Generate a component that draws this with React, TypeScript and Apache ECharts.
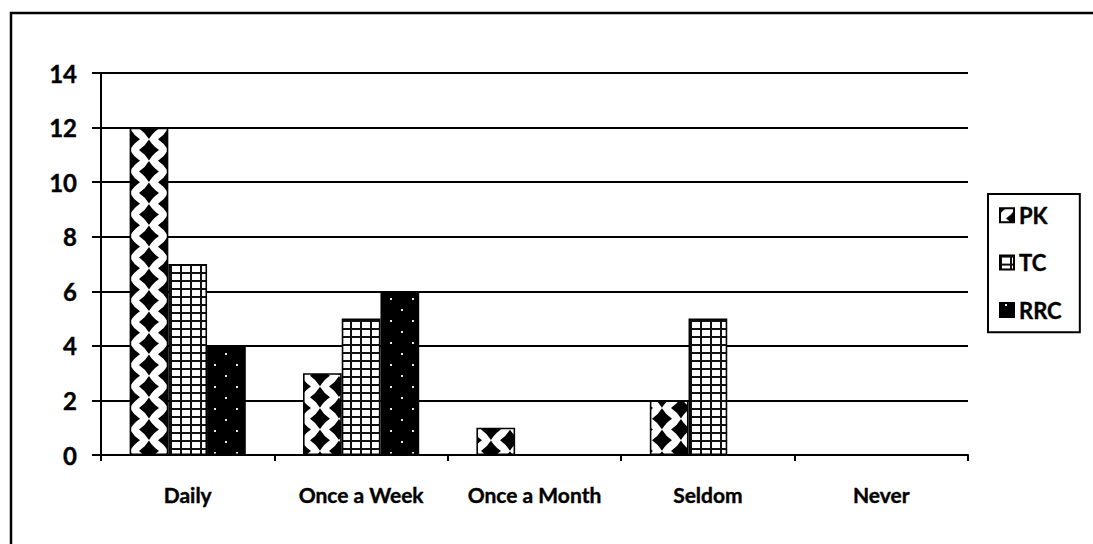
import React, { useEffect, useRef } from "react";
import * as echarts from "echarts";

const categories = ["Daily", "Once a Week", "Once a Month", "Seldom", "Never"];
const pkValues = [12, 3, 1, 2, 0];
const tcValues = [7, 5, 0, 5, 0];
const rrcValues = [4, 6, 0, 0, 0];
const seriesNames = ["PK", "TC", "RRC"];

const FONT = "Lato, 'Open Sans', sans-serif";

// Staggered black diamonds with slightly hollowed sides on white
function diamondTile(): HTMLCanvasElement {
  const w = 38, h = 43;
  const c = document.createElement("canvas");
  c.width = w; c.height = h;
  const g = c.getContext("2d")!;
  g.fillStyle = "#fff";
  g.fillRect(0, 0, w, h);
  g.fillStyle = "#000";
  const hw = 10, hh = 10.6, k = 0.38;
  const colA = 16, colB = 35;
  const rowA = 160.75 % 21.5, rowB = 150 % 21.5;
  const pts: number[][] = [];
  for (const dx of [-w, 0, w]) {
    for (const dy of [-h, 0, h]) {
      pts.push([colA + dx, rowA + dy], [colA + dx, rowA + 21.5 + dy]);
      pts.push([colB + dx, rowB + dy], [colB + dx, rowB + 21.5 + dy]);
    }
  }
  for (const [cx, cy] of pts) {
    g.beginPath();
    g.moveTo(cx, cy - hh);
    g.quadraticCurveTo(cx + k * hw, cy - k * hh, cx + hw, cy);
    g.quadraticCurveTo(cx + k * hw, cy + k * hh, cx, cy + hh);
    g.quadraticCurveTo(cx - k * hw, cy + k * hh, cx - hw, cy);
    g.quadraticCurveTo(cx - k * hw, cy - k * hh, cx, cy - hh);
    g.closePath();
    g.fill();
  }
  return c;
}

// Small square grid
function gridTile(): HTMLCanvasElement {
  const w = 10, h = 8;
  const c = document.createElement("canvas");
  c.width = w; c.height = h;
  const g = c.getContext("2d")!;
  g.fillStyle = "#fff";
  g.fillRect(0, 0, w, h);
  g.fillStyle = "#111";
  g.fillRect(0, 0, 2, h);
  g.fillRect(0, 0, w, 2);
  return c;
}

// Black with scattered white dots
function dotTile(): HTMLCanvasElement {
  const w = 22, h = 22;
  const c = document.createElement("canvas");
  c.width = w; c.height = h;
  const g = c.getContext("2d")!;
  g.fillStyle = "#000";
  g.fillRect(0, 0, w, h);
  g.fillStyle = "#e8e8e8";
  g.fillRect(5, 1, 2, 2);
  g.fillRect(16, 12, 2, 2);
  return c;
}

function pattern(canvas: HTMLCanvasElement): any {
  return {
    image: canvas,
    repeat: "repeat",
    imageWidth: canvas.width,
    imageHeight: canvas.height,
  };
}

export default function App() {
  const ref = useRef<HTMLDivElement>(null);

  useEffect(() => {
    if (!ref.current) return;
    const chart = echarts.init(ref.current, null, { renderer: "svg" });
    const fills = [pattern(diamondTile()), pattern(gridTile()), pattern(dotTile())];
    const values = [pkValues, tcValues, rrcValues];
    const boldText = { textBorderColor: "#000", textBorderWidth: 0.4 };

    chart.setOption({
      animation: false,
      backgroundColor: "#fff",
      grid: { left: 101, right: 125, top: 73, bottom: 89 },
      legend: {
        orient: "vertical",
        left: 988,
        top: 194,
        padding: [10, 18, 11, 11],
        itemGap: 25,
        itemWidth: 14,
        itemHeight: 14,
        icon: "rect",
        borderColor: "#000",
        borderWidth: 2,
        textStyle: {
          fontFamily: FONT, fontWeight: "bold", fontSize: 22, color: "#000", ...boldText,
        },
        data: seriesNames,
      },
      xAxis: {
        type: "category",
        data: categories,
        axisLine: { lineStyle: { color: "#000", width: 2 } },
        axisTick: { show: true, alignWithLabel: false, length: 6, lineStyle: { color: "#000", width: 2 } },
        axisLabel: {
          interval: 0,
          color: "#000", fontFamily: FONT, fontWeight: "bold", fontSize: 21, margin: 29, ...boldText,
        },
      },
      yAxis: {
        type: "value",
        min: 0,
        max: 14,
        interval: 2,
        axisLine: { show: true, lineStyle: { color: "#000", width: 2 } },
        axisTick: { show: true, length: 9, lineStyle: { color: "#000", width: 2 } },
        splitLine: { show: true, lineStyle: { color: "#000", width: 2 } },
        axisLabel: {
          color: "#000", fontFamily: FONT, fontWeight: "bold", fontSize: 24, margin: 24, ...boldText,
        },
      },
      series: seriesNames.map((name, i) => ({
        name,
        type: "bar",
        data: values[i],
        barGap: "0%",
        barCategoryGap: "33%",
        itemStyle: { color: fills[i], borderColor: "#000", borderWidth: 1.6 },
      })),
      graphic: [
        {
          type: "rect",
          silent: true,
          shape: { x: 11, y: 13, width: 1200, height: 700 },
          style: { fill: "none", stroke: "#000", lineWidth: 2.5 },
        },
      ],
    });

    return () => chart.dispose();
  }, []);

  return (
    <div
      ref={ref}
      style={{ position: "fixed", left: 0, top: 0, width: 1093, height: 544 }}
    />
  );
}
